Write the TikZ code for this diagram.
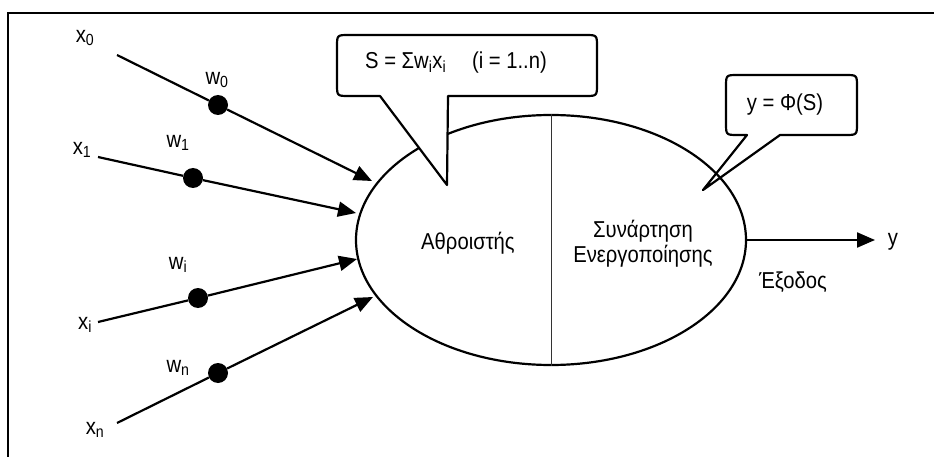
\documentclass[tikz,border=0pt]{standalone}
\usepackage{fontspec}
\usepackage{graphicx}
\setmainfont{Liberation Sans}
\usetikzlibrary{arrows.meta,shapes.geometric}
\tikzset{
  wire/.style={line width=2.2pt},
  feed/.style={wire,-{Triangle[length=18pt,width=15pt]}},
  weight/.style={circle,fill=black,inner sep=0pt,minimum size=20pt},
  lbl/.style={inner sep=0pt,font=\fontsize{23}{26}\selectfont},
  bubble/.style={line width=2.2pt,line join=round},
}
\newcommand{\nar}[1]{\scalebox{0.88}[1]{#1}}

\begin{document}
\begin{tikzpicture}[x=1pt,y=-1pt]
\useasboundingbox (0,0) rectangle (934,457);

% frame edges
\draw[line width=2.8pt] (8,457) -- (8,13) -- (934,13);

% neuron body
\node[draw,ellipse,line width=2.2pt,minimum width=390pt,minimum height=250pt,inner sep=0pt] (neuron) at (551,240) {};
\draw[line width=0.9pt,black!80] (neuron.north) -- (neuron.south);

% inputs
\node[lbl] (x0) at (85,38) {\nar{x\textsubscript{0}}};
\node[lbl] (x1) at (82,150) {\nar{x\textsubscript{1}}};
\node[lbl] (xi) at (85,325) {\nar{x\textsubscript{i}}};
\node[lbl] (xn) at (95,430) {\nar{x\textsubscript{n}}};

\coordinate (s0) at (117,55);
\coordinate (s1) at (98,157);
\coordinate (si) at (98,322);
\coordinate (sn) at (117,423);

\node[weight] (w0) at (218,105) {};
\node[weight] (w1) at (193,178) {};
\node[weight] (wi) at (198,298) {};
\node[weight] (wn) at (218,373) {};

\node[lbl] (lw0) at (217,80) {\nar{w\textsubscript{0}}};
\node[lbl] (lw1) at (178,143) {\nar{w\textsubscript{1}}};
\node[lbl] (lwi) at (178,265) {\nar{w\textsubscript{i}}};
\node[lbl] (lwn) at (178,368) {\nar{w\textsubscript{n}}};

\coordinate (t0) at (372,181);
\coordinate (t1) at (356,213);
\coordinate (ti) at (357,259);
\coordinate (tn) at (373,297);

\draw[wire] (s0) -- (w0);
\draw[wire] (s1) -- (w1);
\draw[wire] (si) -- (wi);
\draw[wire] (sn) -- (wn);
\draw[feed] (w0) -- (t0);
\draw[feed] (w1) -- (t1);
\draw[feed] (wi) -- (ti);
\draw[feed] (wn) -- (tn);

% inner labels
\node[lbl] (acc) at (468,243) {\nar{Αθροιστής}};
\node[lbl] (act1) at (643,231) {\nar{Συνάρτηση}};
\node[lbl] (act2) at (643,256) {\nar{Ενεργοποίησης}};

% output
\coordinate (yend) at (875,240);
\draw[feed] (neuron.east) -- (yend);
\node[lbl] (y) at (893,242) {\nar{y}};
\node[lbl] (out) at (793,282) {\nar{Έξοδος}};

% speech bubble of the sum
\draw[bubble,fill=white] (447,185) -- (380,96) -- (349,96) .. controls (337,96) .. (337,84)
  -- (337,47) .. controls (337,35) .. (349,35) -- (585,35) .. controls (597,35) .. (597,47)
  -- (597,84) .. controls (597,96) .. (585,96) -- (448,96) -- cycle;
\node[lbl] (sum) at (456,63) {\nar{S = Σw\textsubscript{i}x\textsubscript{i}\quad\ (i = 1..n)}};

% speech bubble of the activation
\draw[bubble] (703,190) -- (747,135) -- (738,135) .. controls (726,135) .. (726,123)
  -- (726,87) .. controls (726,75) .. (738,75) -- (845,75) .. controls (857,75) .. (857,87)
  -- (857,123) .. controls (857,135) .. (845,135) -- (780,135) -- cycle;
\node[lbl] (phi) at (785,105) {\nar{y = Φ(S)}};
\end{tikzpicture}
\end{document}
